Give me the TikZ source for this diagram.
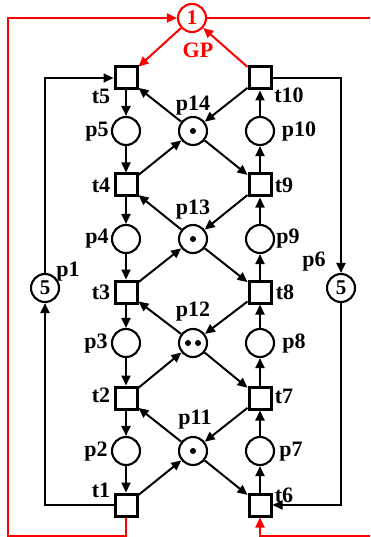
\documentclass[tikz,border=0pt]{standalone}
\usepackage{fontspec}
\setmainfont{Liberation Serif}
\usetikzlibrary{arrows.meta}
\begin{document}
\begin{tikzpicture}[x=1pt,y=-1pt,
  pl/.style={circle,draw,line width=2.1pt,minimum size=28pt,inner sep=0pt,fill=white},
  tr/.style={rectangle,draw,line width=3pt,minimum size=22pt,inner sep=0pt,fill=white},
  arc/.style={line width=2pt,-{Triangle[length=10pt,width=9pt]}},
  rarc/.style={arc,red},
  lab/.style={font=\fontsize{22}{22}\bfseries\selectfont,inner sep=0pt},
  num/.style={font=\fontsize{21}{21}\bfseries\selectfont},
  tok/.style={circle,fill,inner sep=0pt,minimum size=6pt}
]
\clip (0,0) rectangle (370,537);
% transitions
\node[tr] (t5) at (126,78) {};
\node[tr] (t10) at (260,78) {};
\node[tr] (t4) at (126,185) {};
\node[tr] (t9) at (260,185) {};
\node[tr] (t3) at (126,292) {};
\node[tr] (t8) at (260,292) {};
\node[tr] (t2) at (126,398) {};
\node[tr] (t7) at (260,398) {};
\node[tr] (t1) at (126,505) {};
\node[tr] (t6) at (260,505) {};
% places
\node[pl] (p5) at (126,131) {};
\node[pl] (p14) at (193,131) {};
\node[pl] (p10) at (260,131) {};
\node[pl] (p4) at (126,239) {};
\node[pl] (p13) at (193,239) {};
\node[pl] (p9) at (260,239) {};
\node[pl] (p3) at (126,343) {};
\node[pl] (p12) at (193,343) {};
\node[pl] (p8) at (260,343) {};
\node[pl] (p2) at (126,451) {};
\node[pl] (p11) at (193,451) {};
\node[pl] (p7) at (260,451) {};
\node[pl,num] (p1) at (45,288) {5};
\node[pl,num] (p6) at (341,288) {5};
\node[pl,num,draw=red,text=red,fill=white] (GP) at (192,18) {1};
% tokens
\node[tok] (k14) at (p14) {};
\node[tok] (k13) at (p13) {};
\node[tok] (k11) at (p11) {};
\node[tok] (k12a) at ([xshift=-5pt]p12.center) {};
\node[tok] (k12b) at ([xshift=5pt]p12.center) {};
% labels
\node[lab] (lt5) at (101,96) {t5};
\node[lab] (lt10) at (289,95) {t10};
\node[lab] (lt4) at (101,185) {t4};
\node[lab] (lt9) at (284,185) {t9};
\node[lab] (lt3) at (101,292) {t3};
\node[lab] (lt8) at (285,292) {t8};
\node[lab] (lt2) at (101,395) {t2};
\node[lab] (lt7) at (284,396) {t7};
\node[lab] (lt1) at (101,490) {t1};
\node[lab] (lt6) at (284,495) {t6};
\node[lab] (lp5) at (97,132) {p5};
\node[lab] (lp10) at (299,132) {p10};
\node[lab] (lp4) at (97,239) {p4};
\node[lab] (lp9) at (288,239) {p9};
\node[lab] (lp3) at (96,344) {p3};
\node[lab] (lp8) at (294,344) {p8};
\node[lab] (lp2) at (96,452) {p2};
\node[lab] (lp7) at (291,452) {p7};
\node[lab] (lp14) at (193,106) {p14};
\node[lab] (lp13) at (193,210) {p13};
\node[lab] (lp12) at (193,312) {p12};
\node[lab] (lp11) at (195,420) {p11};
\node[lab] (lp1) at (68,272) {p1};
\node[lab] (lp6) at (314,262) {p6};
\node[lab,red] (lgp) at (198,50) {GP};
% left column (downwards)
\draw[arc] (t5) -- (p5);
\draw[arc] (p5) -- (t4);
\draw[arc] (t4) -- (p4);
\draw[arc] (p4) -- (t3);
\draw[arc] (t3) -- (p3);
\draw[arc] (p3) -- (t2);
\draw[arc] (t2) -- (p2);
\draw[arc] (p2) -- (t1);
% right column (upwards)
\draw[arc] (t6) -- (p7);
\draw[arc] (p7) -- (t7);
\draw[arc] (t7) -- (p8);
\draw[arc] (p8) -- (t8);
\draw[arc] (t8) -- (p9);
\draw[arc] (p9) -- (t9);
\draw[arc] (t9) -- (p10);
\draw[arc] (p10) -- (t10);
% middle places
\draw[arc] (p14) -- (t5);
\draw[arc] (t10) -- (p14);
\draw[arc] (t4) -- (p14);
\draw[arc] (p14) -- (t9);
\draw[arc] (p13) -- (t4);
\draw[arc] (t9) -- (p13);
\draw[arc] (t3) -- (p13);
\draw[arc] (p13) -- (t8);
\draw[arc] (p12) -- (t3);
\draw[arc] (t8) -- (p12);
\draw[arc] (t2) -- (p12);
\draw[arc] (p12) -- (t7);
\draw[arc] (p11) -- (t2);
\draw[arc] (t7) -- (p11);
\draw[arc] (t1) -- (p11);
\draw[arc] (p11) -- (t6);
% outer loops
\draw[arc] (t1) -| (p1);
\draw[arc] (p1) |- (t5);
\draw[arc] (t10) -| (p6);
\draw[arc] (p6) |- (t6);
% red resource place
\coordinate (rbL) at (8,536);
\coordinate (rtL) at (8,18);
\coordinate (rtR) at (385,18);
\coordinate (rbR) at (385,536);
\draw[rarc] (GP) -- (t5);
\draw[rarc] (t10) -- (GP);
\draw[rarc] (t1) -- (t1 |- rbL) -- (rbL) -- (rtL) -- (GP);
\draw[rarc] (GP) -- (rtR) -- (rbR) -- (t6 |- rbR) -- (t6);
\end{tikzpicture}
\end{document}
